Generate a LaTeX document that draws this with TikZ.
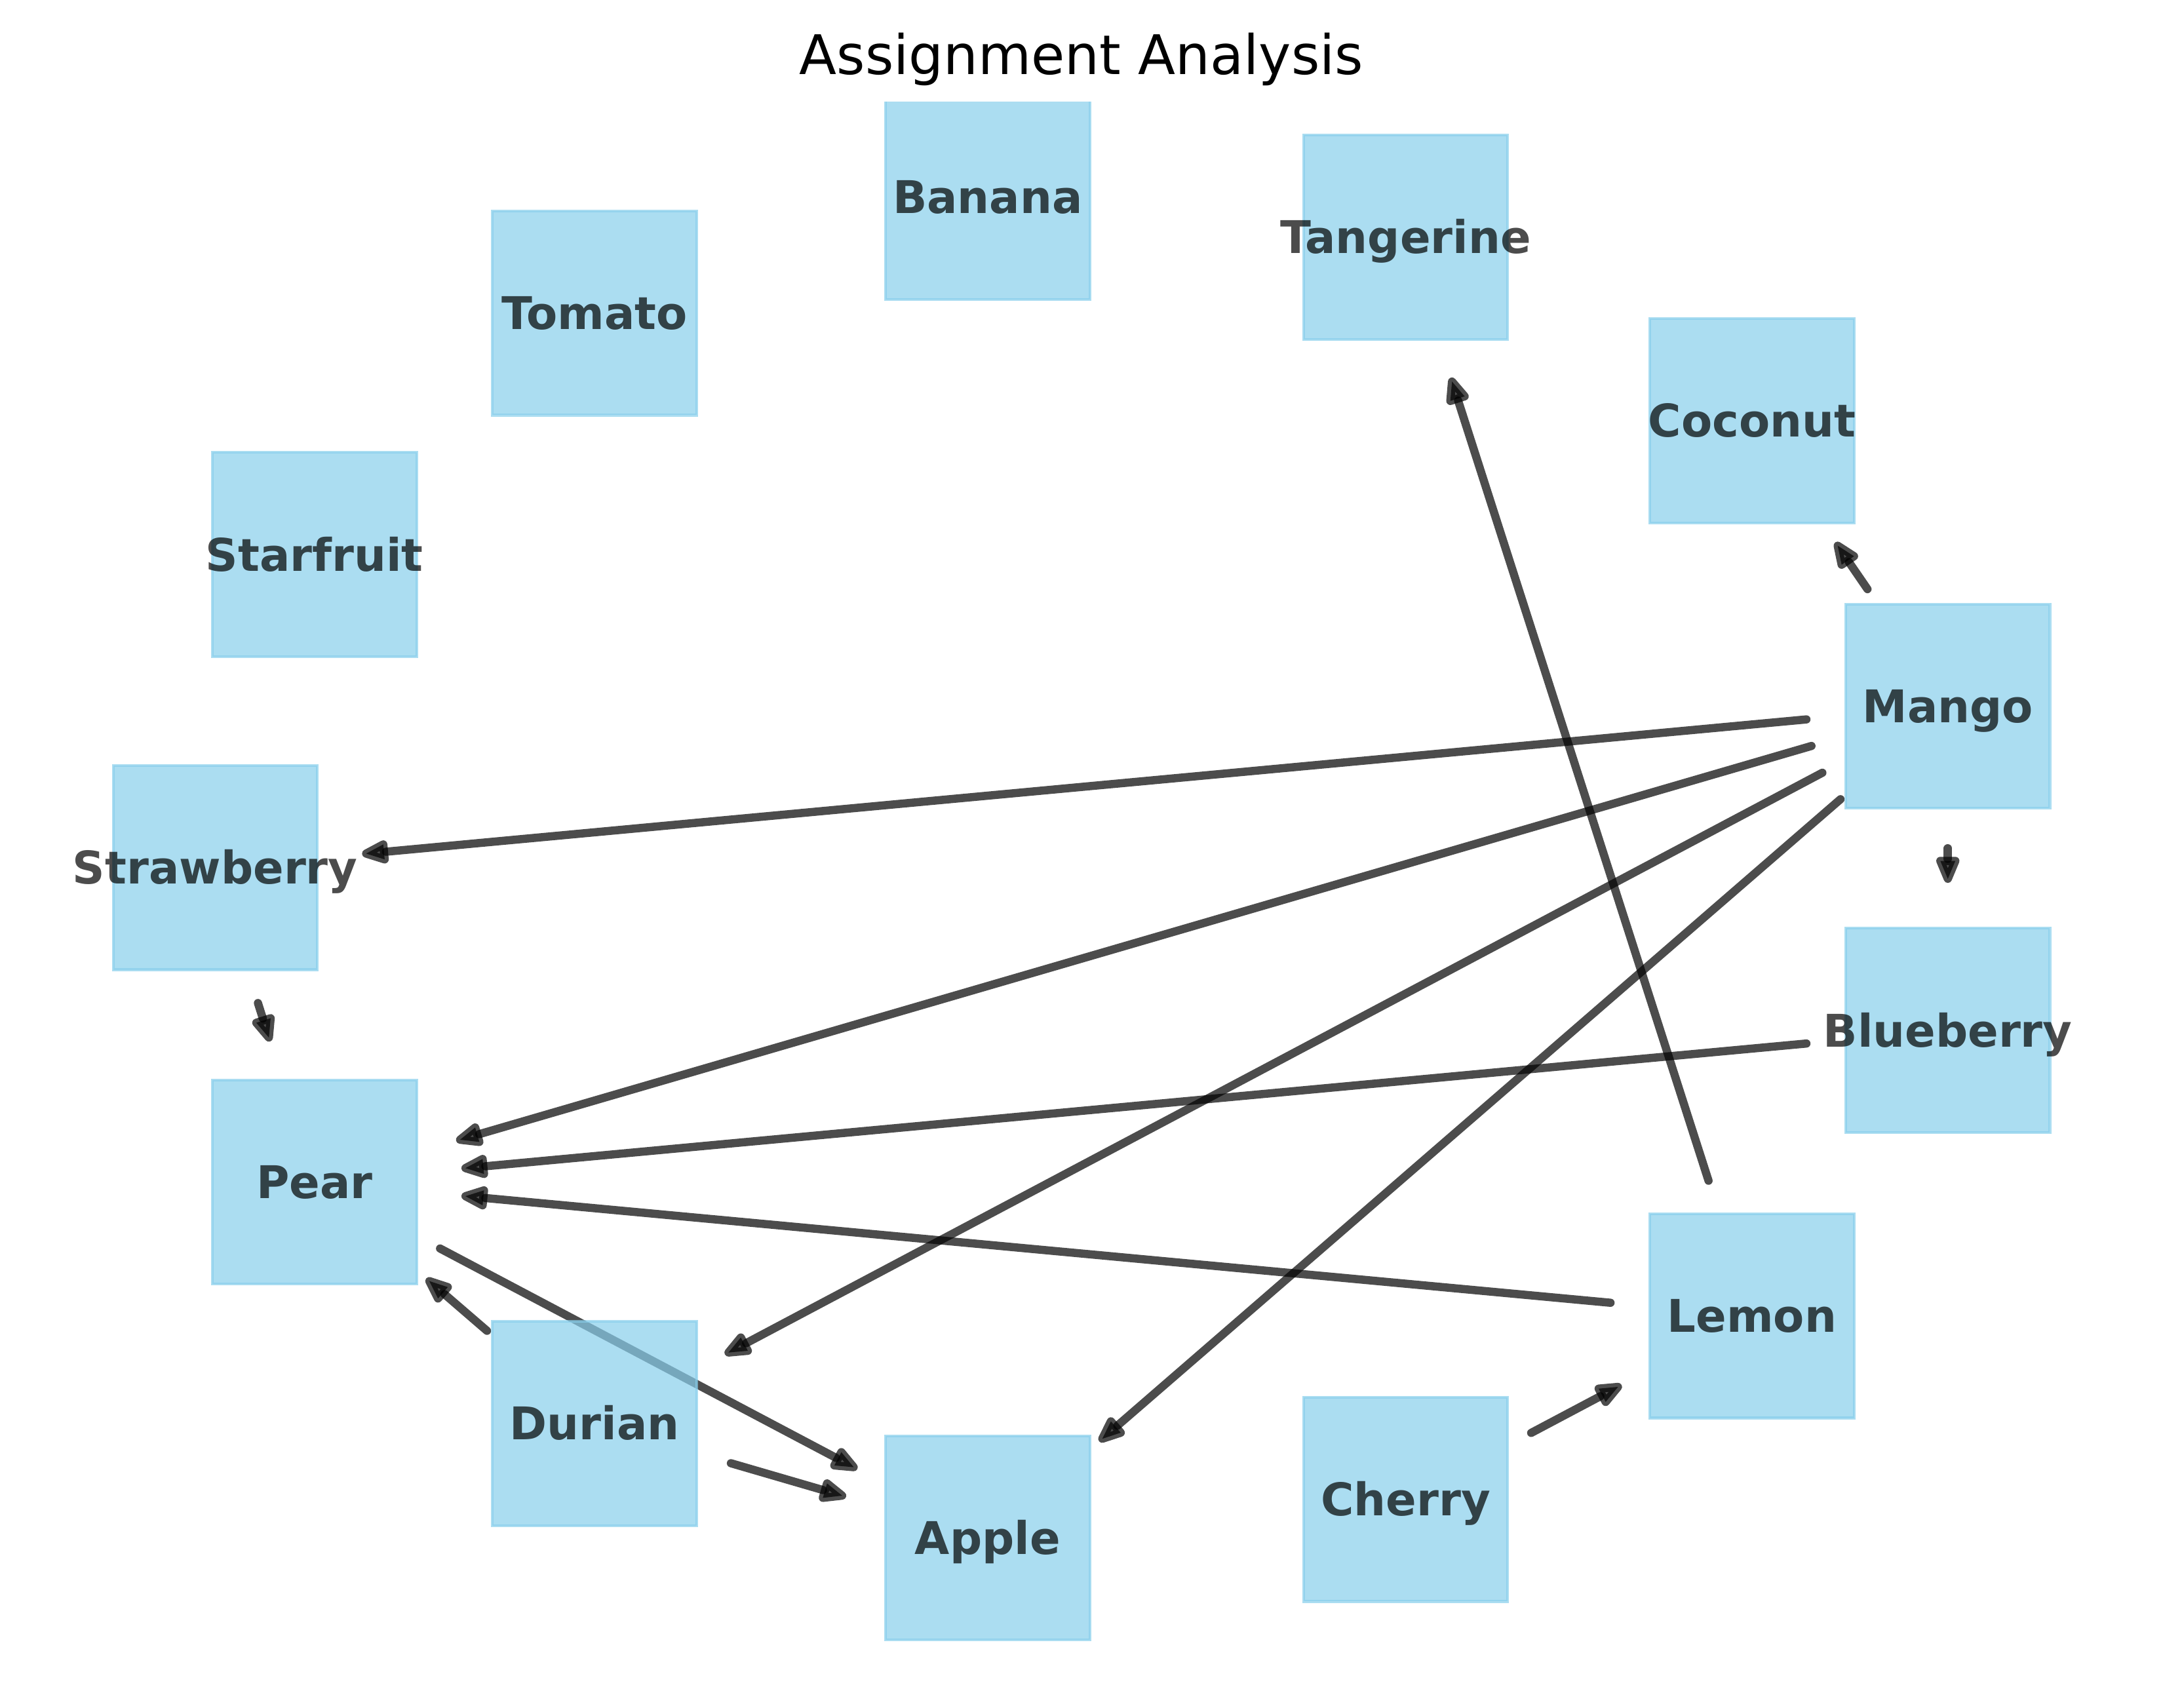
\documentclass[tikz,border=0pt]{standalone}
\usepackage{fontspec}
\setmainfont{DejaVu Sans}
\usepackage{tikz}
\usetikzlibrary{arrows.meta, backgrounds}
\definecolor{skyblue}{HTML}{87CEEB}

\begin{document}
\begin{tikzpicture}[
  x=0.5051pt, y=-0.5051pt,
  box/.style={rectangle, draw=skyblue, fill=skyblue, draw opacity=0.7, fill opacity=0.7,
              line width=1pt, minimum width=74.75pt, minimum height=74.75pt, inner sep=0pt,
              label={[fruit]center:#1}},
  fruit/.style={font=\fontsize{16.5}{20}\selectfont\bfseries, text=black, text opacity=0.7,
                text height=12pt, text depth=0pt, inner sep=0pt},
  arr/.style={-{Triangle[length=12.5pt, width=9pt, round]}, line width=3pt, black, opacity=0.7,
              line cap=round, shorten <=52pt, shorten >=54pt},
  title/.style={font=\fontsize{20}{24}\selectfont, anchor=base}
]
\useasboundingbox (0,0) rectangle (1568,1238);
\node[title] (title) at (784,54) {Assignment Analysis};

\begin{scope}
\clip (0,74) rectangle (1568,1238);
\node[box=Banana]     (banana)     at (716,143)  {};
\node[box=Tangerine]  (tangerine)  at (1019,172) {};
\node[box=Tomato]     (tomato)     at (431,227)  {};
\node[box=Coconut]    (coconut)    at (1270,305) {};
\node[box=Starfruit]  (starfruit)  at (228,402)  {};
\node[box=Mango]      (mango)      at (1412,512) {};
\node[box=Strawberry] (strawberry) at (156,629)  {};
\node[box=Blueberry]  (blueberry)  at (1412,747) {};
\node[box=Pear]       (pear)       at (228,857)  {};
\node[box=Lemon]      (lemon)      at (1270,954) {};
\node[box=Durian]     (durian)     at (431,1032) {};
\node[box=Cherry]     (cherry)     at (1019,1087) {};
\node[box=Apple]      (apple)      at (716,1115) {};
\end{scope}

\begin{scope}[on background layer]
\draw[arr] (mango.center) -- (coconut.center);
\draw[arr] (mango.center) -- (blueberry.center);
\draw[arr] (mango.center) -- (strawberry.center);
\draw[arr] (mango.center) -- (pear.center);
\draw[arr] (mango.center) -- (durian.center);
\draw[arr] (mango.center) -- (apple.center);
\draw[arr] (blueberry.center) -- (pear.center);
\draw[arr] (lemon.center) -- (pear.center);
\draw[arr] (lemon.center) -- (tangerine.center);
\draw[arr] (cherry.center) -- (lemon.center);
\draw[arr] (strawberry.center) -- (pear.center);
\draw[arr] (durian.center) -- (pear.center);
\draw[arr] (pear.center) -- (apple.center);
\draw[arr] (durian.center) -- (apple.center);
\end{scope}
\end{tikzpicture}
\end{document}
